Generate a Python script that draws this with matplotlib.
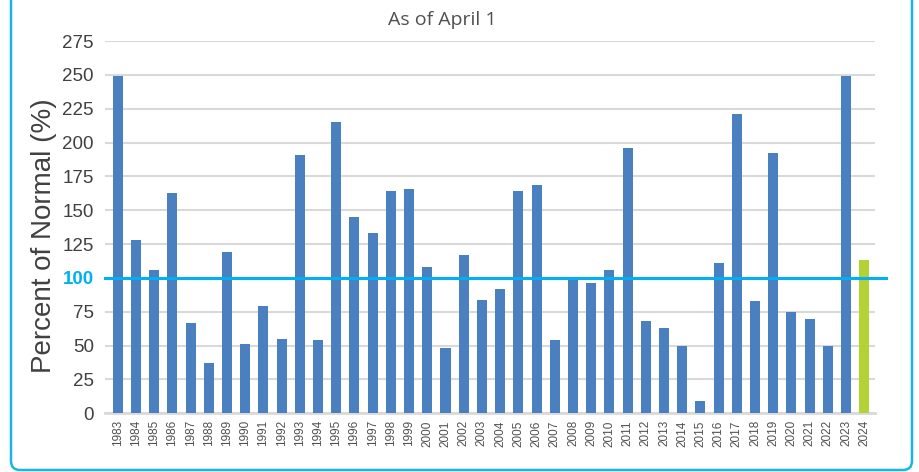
import matplotlib
matplotlib.use("Agg")
import matplotlib.pyplot as plt
from matplotlib.patches import FancyBboxPatch
from matplotlib.transforms import IdentityTransform

years = list(range(1983, 2025))
pct_normal = [249, 128, 106, 163, 67, 37, 119, 51, 79, 55, 191, 54, 215, 145,
              133, 164, 166, 108, 48, 117, 84, 92, 164, 169, 54, 100, 96, 106,
              196, 68, 63, 50, 9, 111, 221, 83, 192, 75, 70, 50, 249, 113]
y_ticks = [0, 25, 50, 75, 100, 125, 150, 175, 200, 225, 250, 275]
normal = 100

blue = "#4A80C0"
green = "#B2D235"
cyan = "#00B0F0"
grey_txt = "#404040"

plt.rcParams["font.family"] = ["Liberation Sans", "DejaVu Sans"]

fig = plt.figure(figsize=(9.19, 4.72), dpi=100)
ax = fig.add_axes([0.1143, 0.1244, 0.838, 0.7887])

colors = [blue] * (len(years) - 1) + [green]
x = list(range(len(years)))
ax.bar(x, pct_normal, width=0.55, color=colors, zorder=3)

ax.set_ylim(0, 275)
ax.set_xlim(-0.7, len(years) - 0.4)
ax.set_yticks(y_ticks)
ax.set_yticklabels([str(t) for t in y_ticks])
ax.set_xticks(x)
ax.set_xticklabels([str(y) for y in years], rotation=90, fontsize=8.5, color="#505050")

ax.yaxis.grid(True, color="#D9D9D9", linewidth=1.5, zorder=0)
ax.tick_params(axis="y", length=0, labelsize=13.5, labelcolor=grey_txt, pad=8)
ax.tick_params(axis="x", length=0, pad=5)
for s in ["top", "right", "left"]:
    ax.spines[s].set_visible(False)
ax.spines["bottom"].set_color("#D9D9D9")
ax.spines["bottom"].set_linewidth(2)

# 100% reference line, slightly overhanging the plot area
ax.axhline(normal, xmin=0, xmax=1.014, color=cyan, linewidth=2.2, zorder=4, clip_on=False)
for lbl in ax.get_yticklabels():
    if lbl.get_text() == str(normal):
        lbl.set_color(cyan)
        lbl.set_fontweight("bold")

ax.set_ylabel("Percent of Normal (%)", fontsize=20, color=grey_txt)
ax.yaxis.set_label_coords(-0.062, 0.476)
fig.text(0.481, 0.957, "As of April 1", fontsize=14, color="#505050",
         family=["Open Sans", "DejaVu Sans"], ha="center", va="center")

frame = FancyBboxPatch((11, 2), 901, 520, boxstyle="round,pad=0,rounding_size=9",
                       transform=IdentityTransform(), fill=False,
                       edgecolor="#1BB4EA", linewidth=1.8)
fig.patches.append(frame)

fig.savefig("out.png", dpi=100)
